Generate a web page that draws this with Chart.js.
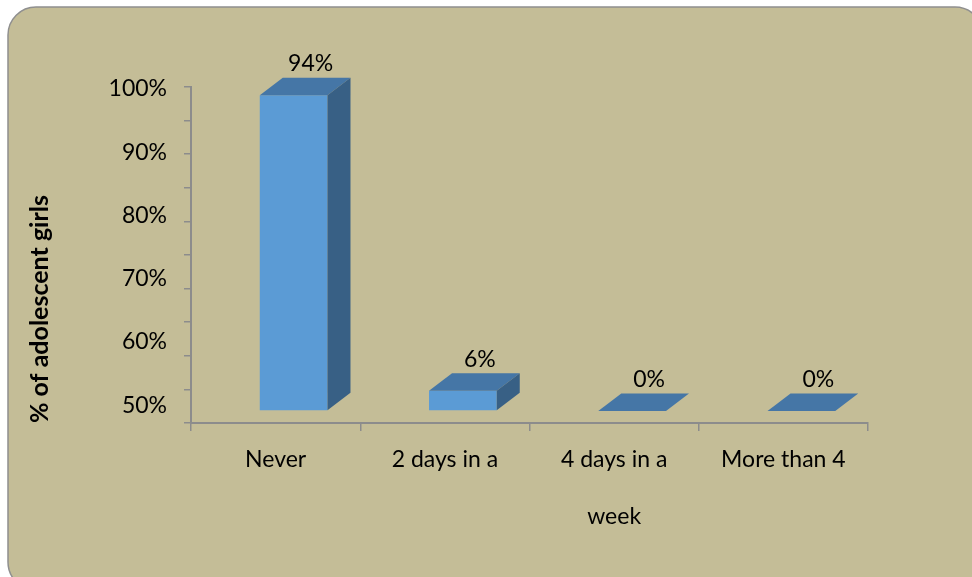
<!DOCTYPE html>
<html><head><meta charset="utf-8">
<script src="https://cdn.jsdelivr.net/npm/chart.js@4.4.1/dist/chart.umd.min.js"></script>
<style>html,body{margin:0;padding:0;background:#fff;}#wrap{width:972px;height:577px;}</style>
</head><body><div id="wrap"><canvas id="c" width="972" height="577"></canvas></div>
<script>
// ---- data ----
const categories = ['Never', '2 days in a', ['4 days in a', '', 'week'], 'More than 4'];
const percentValues = [94, 6, 0, 0];
const valueLabels = ['94%', '6%', '0%', '0%'];
const yTickLabels = ['50%', '60%', '70%', '80%', '90%', '100%'];
const yAxisTitle = '% of adolescent girls';

// ---- style ----
const FONT = 'Lato, "Open Sans", sans-serif';
const AXIS_GRAY = '#8c8c8c';
const FRONT = '#5B9BD5', TOP = '#4576A6', SIDE = '#386085';
const SHIFT_X = 18, SHIFT_Y = -12;     // front face offset inside the 3D floor
const DEPTH_X = 23, DEPTH_Y = -17.5;   // bar depth projection

const backgroundPlugin = {
  id: 'bg',
  beforeDraw(chart) {
    const ctx = chart.ctx;
    ctx.save();
    ctx.fillStyle = '#ffffff';
    ctx.fillRect(0, 0, chart.width, chart.height);
    ctx.beginPath();
    ctx.roundRect(8, 7, 975, 583, 28);
    ctx.fillStyle = '#C4BD97';
    ctx.fill();
    ctx.lineWidth = 1.5;
    ctx.strokeStyle = '#8f8f8f';
    ctx.stroke();
    ctx.restore();
  }
};

const bars3dPlugin = {
  id: 'bars3d',
  beforeDatasetsDraw(chart) {
    chart.ctx.save();
    chart.ctx.translate(SHIFT_X, SHIFT_Y);
  },
  afterDatasetsDraw(chart) {
    const ctx = chart.ctx;
    ctx.restore();
    const meta = chart.getDatasetMeta(0);
    ctx.save();
    meta.data.forEach((el, i) => {
      const w = el.width;
      const x0 = el.x - w / 2 + SHIFT_X, x1 = el.x + w / 2 + SHIFT_X;
      const yt = el.y + SHIFT_Y, yb = el.base + SHIFT_Y;
      // top face
      ctx.beginPath();
      ctx.moveTo(x0, yt); ctx.lineTo(x1, yt);
      ctx.lineTo(x1 + DEPTH_X, yt + DEPTH_Y); ctx.lineTo(x0 + DEPTH_X, yt + DEPTH_Y);
      ctx.closePath();
      ctx.fillStyle = TOP; ctx.fill();
      // side face
      if (yb - yt > 0.5) {
        ctx.beginPath();
        ctx.moveTo(x1, yt); ctx.lineTo(x1 + DEPTH_X, yt + DEPTH_Y);
        ctx.lineTo(x1 + DEPTH_X, yb + DEPTH_Y); ctx.lineTo(x1, yb);
        ctx.closePath();
        ctx.fillStyle = SIDE; ctx.fill();
      }
      // value label
      ctx.fillStyle = '#000';
      ctx.font = '23px ' + FONT;
      ctx.textAlign = 'center';
      ctx.textBaseline = 'middle';
      ctx.fillText(valueLabels[i], el.x + SHIFT_X + 17, yt + DEPTH_Y - 14);
    });
    ctx.restore();
  }
};

new Chart(document.getElementById('c'), {
  type: 'bar',
  data: {
    labels: categories,
    datasets: [{
      data: percentValues,
      backgroundColor: FRONT,
      borderWidth: 0,
      categoryPercentage: 1,
      barPercentage: 0.4,
      yAxisID: 'y'
    }]
  },
  options: {
    responsive: false,
    animation: false,
    events: [],
    layout: { padding: { left: 8, top: 87, right: 104, bottom: 14 } },
    plugins: { legend: { display: false }, tooltip: { enabled: false } },
    scales: {
      x: {
        offset: true,
        grid: { display: true, drawOnChartArea: false, drawTicks: true, tickLength: 8, offset: true, color: AXIS_GRAY, lineWidth: 1.5 },
        border: { display: true, color: AXIS_GRAY, width: 2 },
        ticks: { color: '#000', font: { family: FONT, size: 23, lineHeight: 1.24 }, padding: 14, maxRotation: 0, autoSkip: false },
        afterFit(s) { s.height = 140; }
      },
      y: {
        position: 'left',
        weight: 0,
        min: 0, max: 100,
        grid: { display: true, drawOnChartArea: false, drawTicks: true, tickLength: 7, color: AXIS_GRAY, lineWidth: 1.5 },
        border: { display: true, color: AXIS_GRAY, width: 2 },
        ticks: { stepSize: 10, padding: 0, callback: () => '' },
        afterFit(s) { s.width = 24; }
      },
      yl: {
        position: 'left',
        weight: 1,
        min: 47.2, max: 100.3,
        grid: { display: false, drawTicks: false },
        border: { display: false },
        ticks: {
          stepSize: 10, includeBounds: false, padding: 0,
          color: '#000', font: { family: FONT, size: 23 },
          callback: (v, i) => yTickLabels[i]
        },
        title: {
          display: true, text: yAxisTitle, align: 'start', color: '#000',
          font: { family: FONT, size: 25, weight: 'bold', lineHeight: 1.2 },
          padding: { top: 17, bottom: 0 }
        },
        afterFit(s) { s.width = 159; }
      }
    }
  },
  plugins: [backgroundPlugin, bars3dPlugin]
});
</script>
</body></html>
